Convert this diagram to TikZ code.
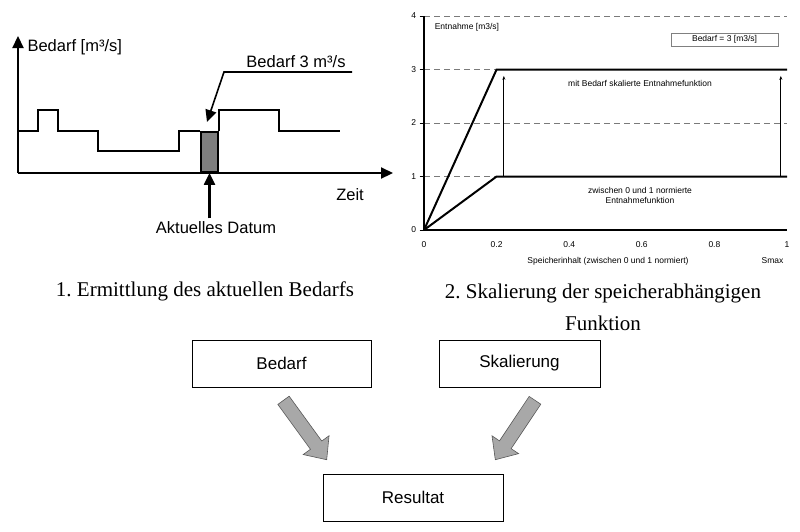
\documentclass[tikz,border=0pt]{standalone}
\usepackage{fontspec}
\setmainfont{Liberation Serif}
\setsansfont{Liberation Sans}
\usepackage{tikz}
\definecolor{gridgray}{HTML}{7A7A7A}
\definecolor{arrowgray}{HTML}{A8A8A8}
\definecolor{datumgray}{HTML}{7F7F7F}
\usetikzlibrary{arrows.meta, positioning, calc}
\frenchspacing

% fat grey arrow between two named points
\newcommand{\fatarrow}[2]{%
  \path (#1) coordinate (fa-s) (#2) coordinate (fa-e);
  \path ($(fa-e)!18pt!(fa-s)$) coordinate (fa-h);
  \draw[fill=arrowgray, draw=black!65, line width=0.6pt]
    ($(fa-s)!7pt!90:(fa-e)$) -- ($(fa-h)!7pt!-90:(fa-s)$) -- ($(fa-h)!16pt!-90:(fa-s)$)
    -- (fa-e) -- ($(fa-h)!16pt!90:(fa-s)$) -- ($(fa-h)!7pt!90:(fa-s)$)
    -- ($(fa-s)!7pt!-90:(fa-e)$) -- cycle;
}

\begin{document}
\begin{tikzpicture}[x=1pt, y=-1pt,
  every node/.style={font=\sffamily},
  axisline/.style={line width=2.2pt},
  bigtip/.style={-{Triangle[length=12pt, width=11pt]}},
  curve/.style={line width=1.8pt},
  gridline/.style={gridgray, line width=0.7pt, dash pattern=on 6pt off 4pt},
  small/.style={font=\sffamily\fontsize{8.5}{10}\selectfont},
  big/.style={font=\sffamily\fontsize{16.5}{19}\selectfont},
  box/.style={draw, line width=0.6pt, minimum width=179pt, minimum height=47pt, font=\sffamily\fontsize{17}{20}\selectfont}]
\useasboundingbox (0,0) rectangle (800,531);

% Demand over time
\coordinate (o) at (18,173);
\draw[axisline, bigtip] (o) -- (18,36);
\draw[axisline, bigtip] (o) -- (393,173);
\node[big, anchor=west] (ylab) at (24,47) {Bedarf [m³/s]};
\node[big] (zeit) at (350,195) {Zeit};
\draw[curve] (18,131) -- (38,131) -- (38,110) -- (58,110) -- (58,131) -- (98,131) -- (98,151)
  -- (179,151) -- (179,131) -- (200,131);
\draw[curve] (219,131) -- (219,110) -- (279,110) -- (279,131) -- (340,131);
\node[draw, fill=datumgray, line width=1.8pt, minimum width=17pt, minimum height=40pt, inner sep=0pt] (now) at (209.5,152) {};

% Current date
\node[big] (datum) at (216,228) {Aktuelles Datum};
\draw[line width=2.2pt, bigtip] (datum.north -| now.south) -- (now.south);

% Demand label
\node[big] (bedarf3) at (296,62) {Bedarf 3 m³/s};
\coordinate (lead) at (352,72);
\coordinate (leadtip) at (207,122);
\draw[line width=1.6pt, bigtip] (lead) -- (224,72) -- (leadtip);

% Scaled withdrawal function
\begin{scope}[shift={(424,230)}, x=363pt, y=53.5pt]
  \foreach \y in {2,4} \draw[gridline] (0,\y) -- (1,\y);
  \foreach \y in {1,3} \draw[gridline] (0,\y) -- (0.2,\y);
  \foreach \y in {0,...,4} {
    \draw[line width=0.8pt] (-0.012,\y) -- (0,\y);
    \node[small, anchor=east] (yt\y) at (-0.012,\y) {\y};
  }
  \foreach \x/\t in {0/0, 0.2/0.2, 0.4/0.4, 0.6/0.6, 0.8/0.8, 1/1}
    \node[small] (xt\t) at (\x,-0.27) {\t};
  \draw[line width=2pt] (0,0) -- (0.2,3) -- (1,3);
  \draw[line width=2pt] (0,0) -- (0.2,1) -- (1,1);
  \draw[axisline] (0,0) -- (0,4);
  \draw[axisline] (0,0) -- (1,0);
  \draw[line width=0.8pt, -{Stealth[length=4pt, width=3pt]}] (0.22,1) -- (0.22,2.88);
  \draw[line width=0.8pt, -{Stealth[length=4pt, width=3pt]}] (0.983,1) -- (0.983,2.88);
  \node[small, anchor=west] (entn) at (0.02,3.78) {Entnahme [m3/s]};
  \node[small, draw=gray, line width=0.6pt, minimum width=107pt, minimum height=13pt, inner sep=1pt] (bedbox) at (0.828,3.56) {Bedarf = 3 [m3/s]};
  \node[small] (skal) at (0.595,2.73) {mit Bedarf skalierte Entnahmefunktion};
  \node[small, align=center] (norm) at (0.595,0.64) {zwischen 0 und 1 normierte\\Entnahmefunktion};
  \node[small] (xlab) at (0.507,-0.58) {Speicherinhalt (zwischen 0 und 1 normiert)};
  \node[small] (smax) at (0.96,-0.58) {Smax};
\end{scope}

% Captions
\node[font=\rmfamily\fontsize{21}{24}\selectfont] (cap1) at (205,291) {1. Ermittlung des aktuellen Bedarfs};
\node[font=\rmfamily\fontsize{21}{32}\selectfont, align=center] (cap2) at (603,307) {2. Skalierung der speicherabhängigen\\Funktion};

% Combination
\node[box] (bedarf) at (281.5,363.5) {Bedarf};
\node[box, minimum width=161pt] (skalierung) at (519.5,363.5) {Skalierung};
\node[box, minimum width=180pt] (resultat) at (413,497.5) {Resultat};
\fatarrow{$(bedarf.south)+(2,13)$}{$(resultat.north west)+(4,-14)$}
\fatarrow{$(skalierung.south)+(15.5,13)$}{$(resultat.north east)+(-8,-14)$}
\end{tikzpicture}
\end{document}
